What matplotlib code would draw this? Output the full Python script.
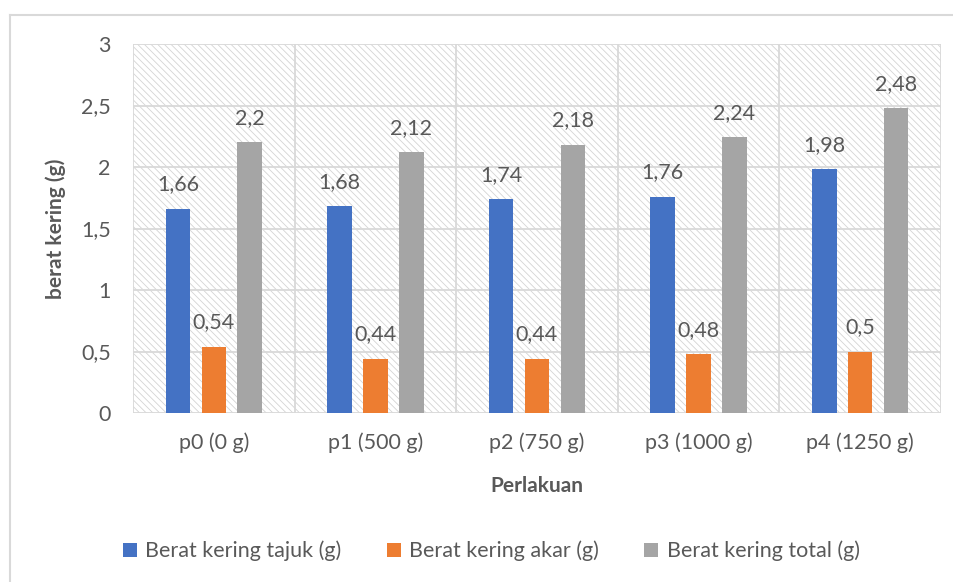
import numpy as np
import matplotlib
matplotlib.use("Agg")
import matplotlib.pyplot as plt
from matplotlib.patches import Rectangle
from matplotlib.lines import Line2D
from matplotlib.ticker import FuncFormatter

plt.rcParams['font.family'] = ['Lato', 'DejaVu Sans']
plt.rcParams['hatch.linewidth'] = 0.6

perlakuan = ['p0 (0 g)', 'p1 (500 g)', 'p2 (750 g)', 'p3 (1000 g)', 'p4 (1250 g)']
tajuk = [1.66, 1.68, 1.74, 1.76, 1.98]
akar = [0.54, 0.44, 0.44, 0.48, 0.50]
total = [2.20, 2.12, 2.18, 2.24, 2.48]

series = [tajuk, akar, total]
labels = ['Berat kering tajuk (g)', 'Berat kering akar (g)', 'Berat kering total (g)']
colors = ['#4472C4', '#ED7D31', '#A5A5A5']
text_color = '#595959'
grid_color = '#D9D9D9'
fs = 15.5


def koma(v):
    # angka desimal pakai koma
    s = ('%.2f' % v).rstrip('0').rstrip('.')
    return s.replace('.', ',')


fig = plt.figure(figsize=(9.54, 5.82), dpi=100)
W, H = 954, 582
ax = fig.add_axes([133 / W, (H - 413) / H, (941 - 133) / W, (413 - 44) / H])

# arsiran latar area plot
ax.add_patch(Rectangle((0, 0), 1, 1, transform=ax.transAxes, facecolor='white',
                       edgecolor='#D4D4D4', hatch='\\\\\\\\\\', linewidth=0, zorder=0))

x = np.arange(len(perlakuan))
lebar = 0.152
jarak = 0.222
for i, (data, lab, col) in enumerate(zip(series, labels, colors)):
    pos = x + (i - 1) * jarak
    ax.bar(pos, data, width=lebar, color=col, label=lab, zorder=3)
    for px, v in zip(pos, data):
        ax.annotate(koma(v), (px, v), xytext=(0, 17.5), textcoords='offset points',
                    ha='center', va='center', fontsize=fs, color=text_color, zorder=4)

ax.set_xlim(-0.5, len(perlakuan) - 0.5)
ax.set_ylim(0, 3)
ax.set_yticks(np.arange(0, 3.01, 0.5))
ax.yaxis.set_major_formatter(FuncFormatter(lambda v, p: koma(v)))
ax.set_xticks(x)
ax.set_xticklabels(perlakuan)

# garis grid horizontal dan pemisah kategori
for yv in np.arange(0, 3.01, 0.5):
    ax.axhline(yv, color=grid_color, linewidth=1.3, zorder=1)
for xv in np.arange(-0.5, len(perlakuan), 1.0):
    ax.axvline(xv, color=grid_color, linewidth=1.3, zorder=1)

for s in ax.spines.values():
    s.set_visible(False)
ax.tick_params(axis='both', length=0, labelsize=fs, colors=text_color)
ax.tick_params(axis='y', pad=16)
ax.tick_params(axis='x', pad=14)

ax.set_ylabel('berat kering (g)', fontsize=15, fontweight='bold', color=text_color, labelpad=11)
fig.text(537 / W, 1 - 486 / H, 'Perlakuan', fontsize=15, fontweight='bold',
         color=text_color, ha='center', va='center')

fig.legend(loc='center', bbox_to_anchor=(0.515, 1 - 551 / H), ncol=3, frameon=False,
           fontsize=fs, handlelength=0.65, handleheight=0.65, handletextpad=0.4,
           columnspacing=2.1, labelcolor=text_color)

# bingkai luar grafik
fig.add_artist(Line2D([10 / W, 10 / W], [0, 1 - 15 / H], color=grid_color, linewidth=1.5))
fig.add_artist(Line2D([10 / W, 1], [1 - 15 / H, 1 - 15 / H], color=grid_color, linewidth=1.5))

fig.savefig('out.png', dpi=100)
